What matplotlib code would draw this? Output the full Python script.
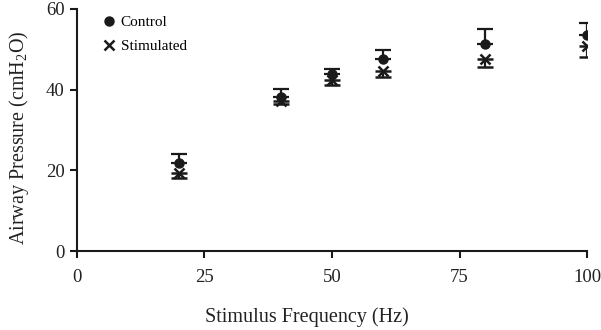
import matplotlib
matplotlib.use("Agg")
import matplotlib.pyplot as plt
import numpy as np

freq = [20, 40, 50, 60, 80, 100]
control = [21.8, 38.3, 44.0, 47.6, 51.2, 53.6]
control_err_up = [2.2, 1.8, 1.1, 2.3, 3.7, 2.8]
stim = [19.3, 37.3, 42.3, 44.7, 47.6, 50.8]
stim_err_down = [1.3, 0.8, 1.1, 1.5, 2.0, 2.6]

plt.rcParams['font.family'] = ['Liberation Serif', 'DejaVu Serif']
plt.rcParams['mathtext.fontset'] = 'custom'
plt.rcParams['mathtext.rm'] = 'Liberation Serif'

fig = plt.figure(figsize=(6.01, 3.30), dpi=100)
ax = fig.add_axes([0.128, 0.239, 0.849, 0.734])

ax.errorbar(freq, control, yerr=[np.zeros(len(control)), control_err_up],
            fmt='o', color='#1a1a1a', ms=6.5, elinewidth=1.6, capsize=6, capthick=1.6,
            label='Control')
ax.errorbar(freq, stim, yerr=[stim_err_down, np.zeros(len(stim))],
            fmt='x', color='#1a1a1a', ms=7, mew=1.8, elinewidth=1.6, capsize=6, capthick=1.6,
            label='Stimulated')

ax.set_xlim(0, 100)
ax.set_ylim(0, 60)
ax.set_xticks([0, 25, 50, 75, 100])
ax.set_yticks([0, 20, 40, 60])
for s in ['top', 'right']:
    ax.spines[s].set_visible(False)
for s in ['left', 'bottom']:
    ax.spines[s].set_linewidth(1.5)
    ax.spines[s].set_color('#1a1a1a')
ax.tick_params(axis='both', direction='out', length=5, width=1.5, labelsize=13.5,
               color='#1a1a1a', labelcolor='#222222')
ax.tick_params(axis='x', pad=8)
ax.tick_params(axis='y', pad=4)
ax.set_xlabel('Stimulus Frequency (Hz)', fontsize=14.5, labelpad=18, color='#222222')
ax.xaxis.set_label_coords(0.451, -0.23)
ax.set_ylabel('Airway Pressure (cmH$_\\mathrm{2}$O)', fontsize=14.5, labelpad=8, color='#222222')
ax.yaxis.set_label_coords(-0.09, 0.47)

handles, labels = ax.get_legend_handles_labels()
handles = [h[0] for h in handles]
ax.legend(handles, labels, loc='upper left', bbox_to_anchor=(0.02, 1.03), frameon=False,
          fontsize=11, handletextpad=0.3, handlelength=1.0, labelspacing=0.7)

fig.savefig('out.png', dpi=100)
